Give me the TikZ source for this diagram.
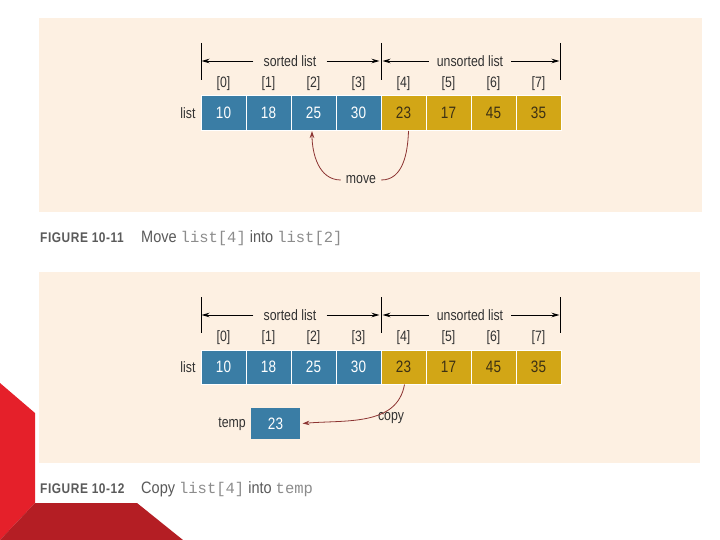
\documentclass[tikz,border=0pt]{standalone}
\usepackage{fontspec}
\setmainfont[FakeStretch=0.82]{Liberation Sans}
\newfontfamily\capfont[FakeStretch=0.85,LetterSpace=4]{Liberation Sans}
\newfontfamily\captxt[FakeStretch=0.88]{Liberation Sans}
\setmonofont{Liberation Mono}
\usetikzlibrary{arrows.meta}
\definecolor{bg}{RGB}{253,240,226}
\definecolor{cblue}{RGB}{58,125,165}
\definecolor{cgold}{RGB}{210,166,22}
\definecolor{gtext}{RGB}{60,48,20}
\definecolor{arrred}{RGB}{140,52,50}
\definecolor{capgrey}{RGB}{90,90,90}
\definecolor{monogrey}{RGB}{140,140,140}
\definecolor{redA}{RGB}{229,32,42}
\definecolor{redB}{RGB}{180,30,36}
\definecolor{lbl}{RGB}{50,50,50}
\tikzset{
  cell/.style={minimum width=45pt, minimum height=35pt, inner sep=0pt, draw=white, line width=1pt, font=\fontsize{16.5}{16.5}\selectfont},
  bcell/.style={cell, fill=cblue, text=white},
  gcell/.style={cell, fill=cgold, text=gtext},
  idx/.style={font=\fontsize{15}{15}\selectfont, text=lbl},
  lab/.style={font=\fontsize{15}{15}\selectfont, text=lbl, inner sep=0pt},
  dimarr/.style={-{Stealth[length=8pt,width=4.5pt]}, line width=0.8pt, black},
  tick/.style={line width=0.9pt, black},
  redarr/.style={line width=0.8pt, arrred},
  caphead/.style={anchor=west, inner sep=0pt, font=\capfont\bfseries\fontsize{14}{14}\selectfont, text=capgrey},
  captext/.style={anchor=west, inner sep=0pt, font=\captxt\fontsize{16.5}{16.5}\selectfont, text=capgrey},
  monot/.style={},
}
\newcommand{\mymono}[1]{{\ttfamily\fontsize{15.5}{15.5}\selectfont\color{monogrey}#1}}
\begin{document}
\begin{tikzpicture}[x=1pt,y=-1pt]
\useasboundingbox (0,0) rectangle (720,540);
\fill[white] (0,0) rectangle (720,540);
% red decoration
\fill[redA] (0,383) -- (35,413) -- (35,503) -- (0,540) -- cycle;
\fill[redB] (35,503) -- (137,503) -- (183,540) -- (0,540) -- cycle;
% panels
\fill[bg] (39,18) rectangle (702,212);
\fill[bg] (39,272) rectangle (700,463);

% ---------- Panel 1 ----------
\foreach \v [count=\i from 0] in {10,18,25,30} {
  \node[bcell] (a\i) at ({223.5+45*\i},113) {\v};
}
\foreach \v [count=\i from 4] in {23,17,45,35} {
  \node[gcell] (a\i) at ({223.5+45*\i},113) {\v};
}
\foreach \i in {0,...,7} {
  \node[idx] (ia\i) at ({223.5+45*\i},84) {[\i]};
}
\node[lab] (la) at (188,113) {list};
\draw[tick] (201.5,43) -- (201.5,80);
\draw[tick] (381,43) -- (381,80);
\draw[tick] (560,43) -- (560,80);
\coordinate (pa0) at (201.5,61);
\coordinate (pa1) at (379.5,61);
\coordinate (pa2) at (382.5,61);
\coordinate (pa3) at (559.5,61);
\node[lab, inner xsep=10pt] (sa) at (290,61) {sorted list};
\node[lab, inner xsep=8pt] (ua) at (470,61) {unsorted list};
\draw[dimarr] (sa.west) -- (pa0);
\draw[dimarr] (sa.east) -- (pa1);
\draw[dimarr] (ua.west) -- (pa2);
\draw[dimarr] (ua.east) -- (pa3);
\node[lab, inner xsep=5pt] (mv) at (361,180) {move};
\draw[redarr] ([xshift=5pt]a4.south) to[out=-92,in=0] (mv.east);
\draw[redarr, -{Stealth[length=7pt,width=4.5pt]}] (mv.west) to[out=180,in=-90] ([xshift=-1.5pt]a2.south);

\node[caphead] (f1) at (40,238) {FIGURE 10-11};
\node[captext] (c1) at (141,238) {Move \mymono{list[4]} into \mymono{list[2]}};

% ---------- Panel 2 ----------
\foreach \v [count=\i from 0] in {10,18,25,30} {
  \node[bcell, minimum height=34pt] (b\i) at ({223.5+45*\i},367) {\v};
}
\foreach \v [count=\i from 4] in {23,17,45,35} {
  \node[gcell, minimum height=34pt] (b\i) at ({223.5+45*\i},367) {\v};
}
\foreach \i in {0,...,7} {
  \node[idx] (ib\i) at ({223.5+45*\i},338) {[\i]};
}
\node[lab] (lb) at (188,367) {list};
\draw[tick] (201.5,297) -- (201.5,333);
\draw[tick] (381,297) -- (381,333);
\draw[tick] (560,297) -- (560,333);
\coordinate (pb0) at (201.5,315);
\coordinate (pb1) at (379.5,315);
\coordinate (pb2) at (382.5,315);
\coordinate (pb3) at (559.5,315);
\node[lab, inner xsep=10pt] (sb) at (290,315) {sorted list};
\node[lab, inner xsep=8pt] (ub) at (470,315) {unsorted list};
\draw[dimarr] (sb.west) -- (pb0);
\draw[dimarr] (sb.east) -- (pb1);
\draw[dimarr] (ub.west) -- (pb2);
\draw[dimarr] (ub.east) -- (pb3);

\node[bcell, minimum width=49pt, minimum height=31pt, draw=none] (tp) at (275.5,423.5) {23};
\node[lab] (tl) at (232,424) {temp};
\node[lab] (cp) at (391,418) {copy};
\draw[redarr, -{Stealth[length=7pt,width=4.5pt]}] ([xshift=1pt]b4.south) to[out=-100,in=5] ([xshift=2pt]tp.east);

\node[caphead] (f2) at (40,489) {FIGURE 10-12};
\node[captext] (c2) at (141,489) {Copy \mymono{list[4]} into \mymono{temp}};
\end{tikzpicture}
\end{document}
